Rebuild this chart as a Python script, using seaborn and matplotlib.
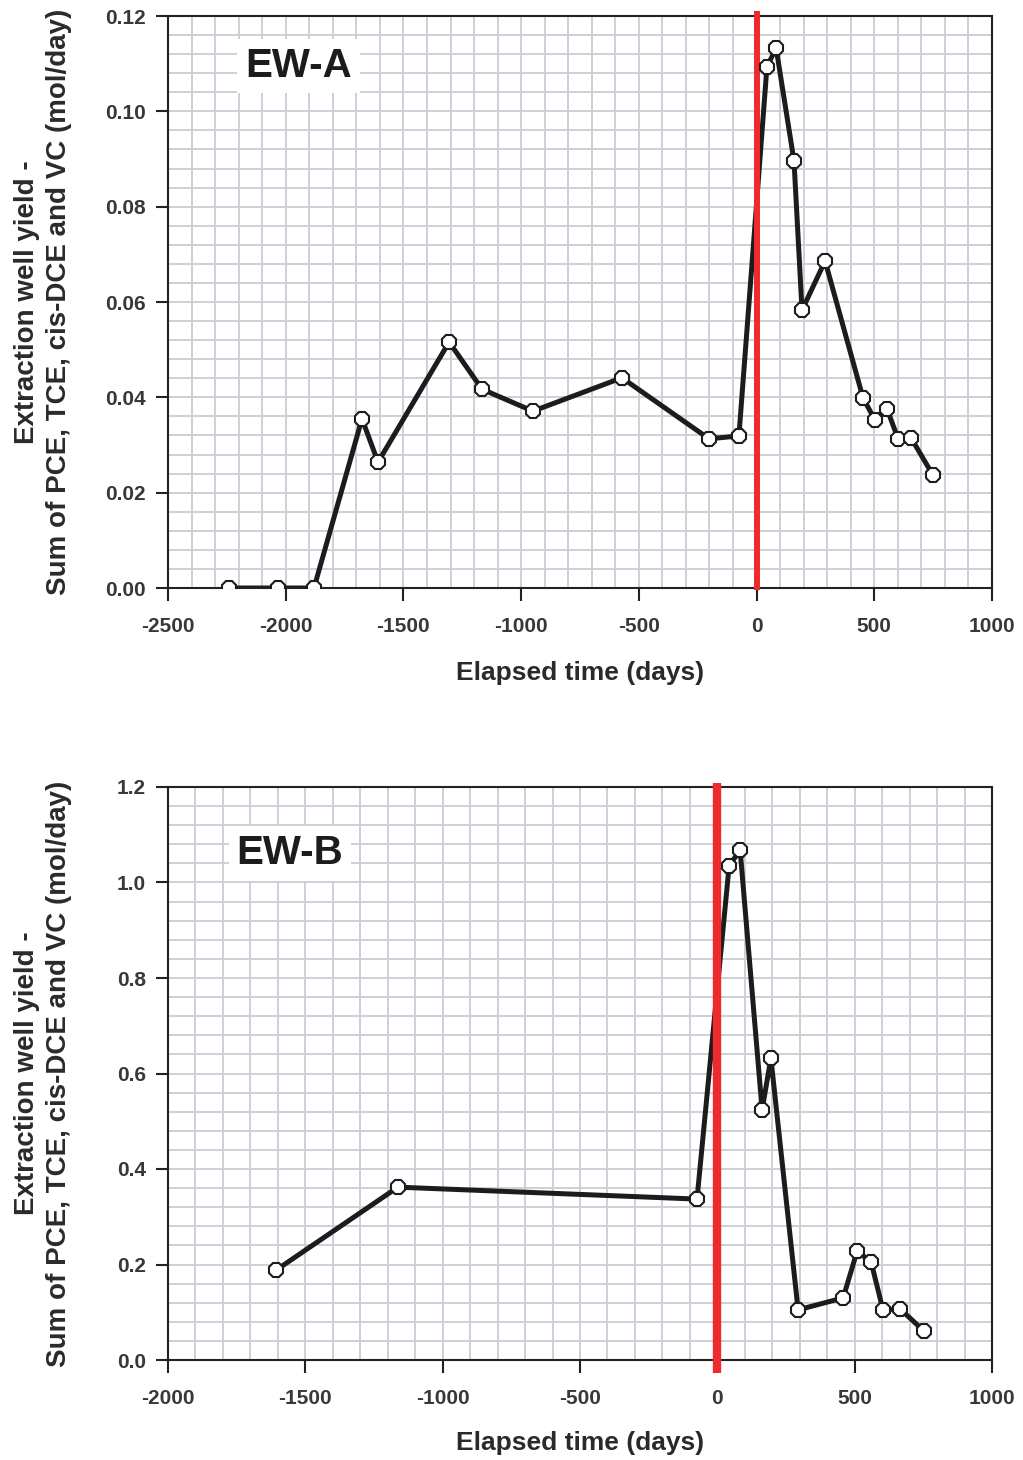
import matplotlib
matplotlib.use("Agg")
import matplotlib.pyplot as plt
from matplotlib.ticker import MultipleLocator, FormatStrFormatter
import seaborn as sns
import pandas as pd

# Extraction well EW-A: elapsed time (days) and summed chlorinated ethene yield (mol/day)
ew_a_days = [-2241, -2033, -1880, -1676, -1608, -1306, -1166, -950, -572, -202, -75,
             44, 83, 159, 193, 291, 452, 503, 554, 601, 656, 749]
ew_a_yield = [0.0, 0.0, 0.0, 0.0355, 0.0264, 0.0516, 0.0417, 0.0371, 0.0441, 0.0313, 0.0319,
              0.1093, 0.1133, 0.0896, 0.0583, 0.0686, 0.0399, 0.0352, 0.0376, 0.0313, 0.0315, 0.0237]

# Extraction well EW-B
ew_b_days = [-1607, -1163, -74, 43, 83, 163, 195, 294, 458, 509, 560, 603, 665, 752]
ew_b_yield = [0.188, 0.362, 0.337, 1.035, 1.068, 0.524, 0.632, 0.105, 0.130, 0.228, 0.205,
              0.105, 0.107, 0.061]

sns.set_theme(style="white")
plt.rcParams["font.family"] = ["Liberation Sans", "DejaVu Sans"]
plt.rcParams["font.weight"] = "bold"
plt.rcParams["axes.labelweight"] = "bold"
plt.rcParams["axes.unicode_minus"] = False

W, H = 1023, 1460
fig = plt.figure(figsize=(W / 100, H / 100), dpi=100)
ax_a = fig.add_axes([168 / W, (H - 588) / H, 824 / W, 572 / H])
ax_b = fig.add_axes([168 / W, (H - 1360) / H, 824 / W, 573 / H])

GRID = "#cbcfd8"
LINE = "#1c1c1c"
RED = "#ee2a2e"
TICKC = "#383838"
YLABEL = "Extraction well yield -\nSum of PCE, TCE, cis-DCE and VC (mol/day)"


def draw_panel(ax, days, yld, xlim, xmaj, ylim, ymaj, ymin_step, yfmt, name, box_xy,
               red_w, red_span, xlab_y):
    df = pd.DataFrame({"days": days, "yield": yld})
    ax.set_axisbelow(True)
    ax.axvline(0, ymin=red_span[0], ymax=red_span[1], color=RED, lw=red_w,
               clip_on=False, zorder=3, solid_capstyle="butt")
    sns.lineplot(data=df, x="days", y="yield", ax=ax, estimator=None, sort=False,
                 color=LINE, linewidth=3.6, zorder=2)
    sns.lineplot(data=df, x="days", y="yield", ax=ax, estimator=None, sort=False,
                 linestyle="none", marker="8", markersize=11, markerfacecolor="white",
                 markeredgecolor=LINE, markeredgewidth=1.5, zorder=4)

    ax.set_xlim(*xlim)
    ax.set_ylim(*ylim)
    ax.xaxis.set_major_locator(MultipleLocator(xmaj))
    ax.xaxis.set_minor_locator(MultipleLocator(100))
    ax.yaxis.set_major_locator(MultipleLocator(ymaj))
    ax.yaxis.set_minor_locator(MultipleLocator(ymin_step))
    ax.yaxis.set_major_formatter(FormatStrFormatter(yfmt))
    ax.grid(True, which="both", color=GRID, linewidth=1.35)

    ax.tick_params(axis="both", which="major", direction="out", length=9, width=1.5,
                   color="#222222", labelsize=15, labelcolor=TICKC, bottom=True, left=True)
    ax.tick_params(axis="x", which="major", pad=12)
    ax.tick_params(axis="y", which="major", pad=7)
    ax.tick_params(which="minor", length=0)
    for lbl in ax.get_xticklabels() + ax.get_yticklabels():
        lbl.set_fontweight("bold")

    for sp in ax.spines.values():
        sp.set_visible(True)
        sp.set_color("#222222")
        sp.set_linewidth(1.5)

    ax.set_xlabel("Elapsed time (days)", fontsize=19, color="#2a2a2a", fontweight="bold")
    ax.set_ylabel(YLABEL, fontsize=20, color="#2a2a2a", fontweight="bold", linespacing=1.3)
    ax.xaxis.set_label_coords(0.5, xlab_y)
    ax.yaxis.set_label_coords(-0.117, 0.5)

    ax.text(box_xy[0], box_xy[1], name, transform=ax.transAxes, ha="center", va="center",
            fontsize=29, fontweight="bold", color="#1c1c1c", zorder=5,
            bbox=dict(boxstyle="square,pad=0.2", facecolor="white", edgecolor="none"))


draw_panel(ax_a, ew_a_days, ew_a_yield, (-2500, 1000), 500, (0, 0.12), 0.02, 0.004, "%.2f",
           "EW-A", (0.158, 0.912), 4.3, (-0.004, 1.009), -0.128)
draw_panel(ax_b, ew_b_days, ew_b_yield, (-2000, 1000), 500, (0, 1.2), 0.2, 0.04, "%.1f",
           "EW-B", (0.148, 0.884), 6.0, (-0.023, 1.007), -0.124)

fig.savefig("out.png", dpi=100, facecolor="white")
